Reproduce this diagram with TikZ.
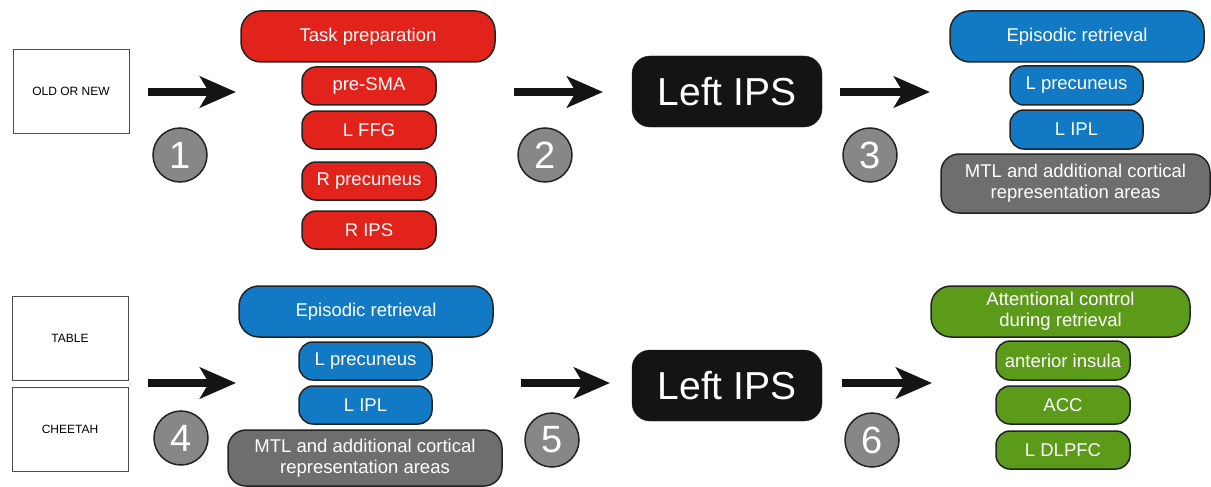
\documentclass[tikz,border=0pt]{standalone}
\usepackage{fontspec}
\setmainfont{Liberation Sans}
\usetikzlibrary{arrows.meta}
\definecolor{cred}{RGB}{226,35,28}
\definecolor{cblue}{RGB}{18,122,196}
\definecolor{cgreen}{RGB}{92,154,26}
\definecolor{cgray}{RGB}{110,110,110}
\definecolor{ccirc}{RGB}{135,135,135}
\definecolor{cedge}{RGB}{35,35,35}
\tikzset{
  base/.style={draw=cedge, line width=1.5pt, text=white, inner sep=0pt, align=center,
    font=\fontsize{18.5}{21}\selectfont},
  redbox/.style={base, fill=cred, rounded corners=14pt},
  bluebox/.style={base, fill=cblue, rounded corners=14pt},
  greenbox/.style={base, fill=cgreen, rounded corners=14pt},
  graybox/.style={base, fill=cgray, rounded corners=18pt},
  big/.style={rounded corners=20pt, minimum width=254pt, minimum height=51pt},
  small/.style={minimum width=134pt, minimum height=38pt},
  ips/.style={draw=cedge, fill=black!92, rounded corners=18pt, text=white,
    minimum width=190pt, minimum height=71pt, inner sep=0pt,
    font=\fontsize{39}{40}\selectfont},
  stim/.style={draw=black!70, line width=0.8pt, fill=white, inner sep=0pt,
    minimum width=116pt, minimum height=84pt, font=\fontsize{12}{14}\selectfont},
  num/.style={circle, draw=cedge, line width=1.5pt, fill=ccirc, text=white,
    minimum size=54pt, inner sep=0pt, font=\fontsize{38}{38}\selectfont},
  bigarrow/.style={line width=8pt, -{Stealth[length=36pt, width=31pt, inset=9pt]}, black!92}
}
\begin{document}
\begin{tikzpicture}[x=1pt,y=-1pt]
\useasboundingbox (0,0) rectangle (1211,487);
% ---- top row ----
\node[stim] (old) at (71,91) {OLD OR NEW};
\coordinate (a1s) at (148,92); \coordinate (a1e) at (236,92);
\draw[bigarrow] (a1s) -- (a1e);
\node[num] (c1) at (180,155) {1};
\node[redbox, big] (task) at (368,36.5) {Task preparation};
\node[redbox, small] (presma) at (369,86) {pre-SMA};
\node[redbox, small] (lffg) at (369,130) {L FFG};
\node[redbox, small] (rprec) at (369,181) {R precuneus};
\node[redbox, small] (rips) at (369,230) {R IPS};
\coordinate (a2s) at (514,92); \coordinate (a2e) at (603,92);
\draw[bigarrow] (a2s) -- (a2e);
\node[num] (c2) at (545,155) {2};
\node[ips] (ips1) at (727,91.5) {Left IPS};
\coordinate (a3s) at (840,92); \coordinate (a3e) at (930,92);
\draw[bigarrow] (a3s) -- (a3e);
\node[num] (c3) at (870,155) {3};
\node[bluebox, big] (epi1) at (1077,36.5) {Episodic retrieval};
\node[bluebox, minimum width=133pt, minimum height=39pt] (lprec1) at (1076.5,85.5) {L precuneus};
\node[bluebox, minimum width=133pt, minimum height=39pt] (lipl1) at (1076.5,129.5) {L IPL};
\node[graybox, minimum width=269pt, minimum height=59pt] (mtl1) at (1075.5,183.5) {MTL and additional cortical\\representation areas};
% ---- bottom row ----
\node[stim] (table) at (70,338) {TABLE};
\node[stim] (cheetah) at (70,429) {CHEETAH};
\coordinate (a4s) at (148,383); \coordinate (a4e) at (236,383);
\draw[bigarrow] (a4s) -- (a4e);
\node[num] (c4) at (181,438) {4};
\node[bluebox, big] (epi2) at (366,311.5) {Episodic retrieval};
\node[bluebox, minimum width=133pt, minimum height=38pt] (lprec2) at (365.5,361) {L precuneus};
\node[bluebox, minimum width=133pt, minimum height=38pt] (lipl2) at (365.5,405) {L IPL};
\node[graybox, minimum width=274pt, minimum height=56pt] (mtl2) at (365,458) {MTL and additional cortical\\representation areas};
\coordinate (a5s) at (521,383); \coordinate (a5e) at (610,383);
\draw[bigarrow] (a5s) -- (a5e);
\node[num] (c5) at (552,440) {5};
\node[ips] (ips2) at (727,385.5) {Left IPS};
\coordinate (a6s) at (842,383); \coordinate (a6e) at (932,383);
\draw[bigarrow] (a6s) -- (a6e);
\node[num] (c6) at (872,440) {6};
\node[greenbox, rounded corners=20pt, minimum width=259pt, minimum height=51pt] (att) at (1060.5,311.5) {Attentional control\\during retrieval};
\node[greenbox, small, minimum height=39pt] (ains) at (1063,360.5) {anterior insula};
\node[greenbox, small] (acc) at (1063,405) {ACC};
\node[greenbox, small] (dlpfc) at (1063,450) {L DLPFC};
\end{tikzpicture}
\end{document}
